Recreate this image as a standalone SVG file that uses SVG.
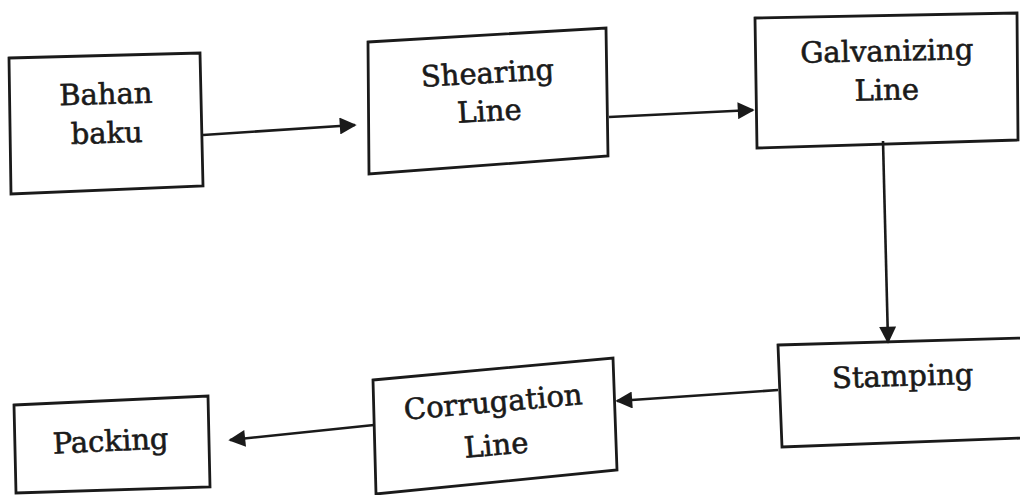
<svg xmlns="http://www.w3.org/2000/svg" width="1020" height="495" viewBox="0 0 1020 495">
<defs>
<style>
.box{fill:#fff;stroke:#1a1a1a;stroke-width:2.8;stroke-linejoin:miter}
.lbl{font-family:"DejaVu Serif","Liberation Serif",serif;font-size:29px;fill:#1a1a1a;stroke:#1a1a1a;stroke-width:0.6;text-anchor:middle}
.con{fill:none;stroke:#1a1a1a;stroke-width:2.6}
</style>
<marker id="ah" viewBox="0 0 10 10" refX="9" refY="5" markerWidth="7" markerHeight="6.5" markerUnits="strokeWidth" orient="auto">
<path d="M0,0 L10,5 L0,10 z" fill="#1a1a1a"/>
</marker>
</defs>
<rect width="1020" height="495" fill="#fff"/>
<g id="bahan-baku">
<polygon class="box" points="9,58 200,53 203,186 11,194"/>
<text class="lbl" transform="rotate(-1.5 106 104)" x="106" y="104">Bahan</text>
<text class="lbl" transform="rotate(-1.5 107 143)" x="107" y="143">baku</text>
</g>
<g id="shearing-line">
<polygon class="box" points="368,42 606,28 608,156 369,174"/>
<text class="lbl" transform="rotate(-3.3 488 83)" x="488" y="83">Shearing</text>
<text class="lbl" transform="rotate(-3.3 490 121)" x="490" y="121">Line</text>
</g>
<g id="galvanizing-line">
<polygon class="box" points="755,18 1017,13 1018,140 757,148"/>
<text class="lbl" transform="rotate(-1.2 887 61)" x="887" y="61">Galvanizing</text>
<text class="lbl" transform="rotate(-1.2 887 100)" x="887" y="100">Line</text>
</g>
<g id="stamping">
<polygon class="box" points="778,345 1022,338 1022,438 782,447"/>
<text class="lbl" transform="rotate(-1.6 903 386)" x="903" y="386">Stamping</text>
</g>
<g id="corrugation-line">
<polygon class="box" points="373,380 613,358 617,470 376,494"/>
<text class="lbl" transform="rotate(-5 494 412)" x="494" y="412">Corrugation</text>
<text class="lbl" transform="rotate(-5 497 455)" x="497" y="455">Line</text>
</g>
<g id="packing">
<polygon class="box" points="14,405 208,396 210,487 16,493"/>
<text class="lbl" transform="rotate(-2.7 111 451)" x="111" y="451">Packing</text>
</g>
<g id="connectors">
<line class="con" x1="203" y1="135" x2="355" y2="125" marker-end="url(#ah)"/>
<line class="con" x1="609" y1="117" x2="753" y2="110" marker-end="url(#ah)"/>
<line class="con" x1="883" y1="141" x2="888" y2="342" marker-end="url(#ah)"/>
<line class="con" x1="778" y1="390" x2="617" y2="401" marker-end="url(#ah)"/>
<line class="con" x1="374" y1="425" x2="230" y2="440" marker-end="url(#ah)"/>
</g>
</svg>
